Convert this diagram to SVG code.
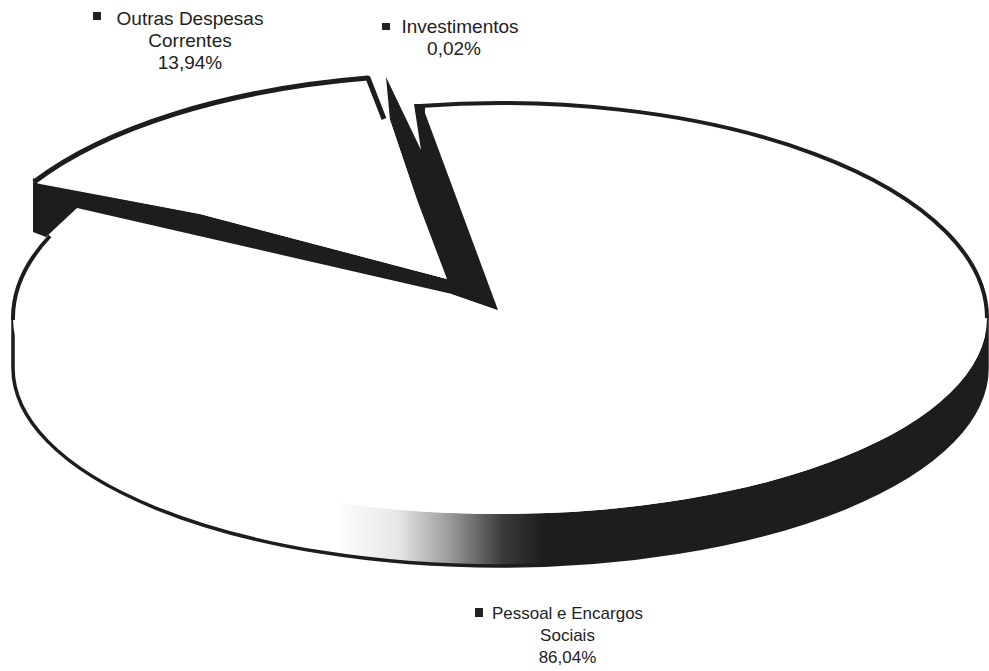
<svg xmlns="http://www.w3.org/2000/svg" width="989" height="671" viewBox="0 0 989 671">
  <style>
    .lbl { font-family: "Liberation Sans", Arial, sans-serif; fill: #222; text-anchor: middle; }
    .top { font-size: 19px; }
    .bot { font-size: 17px; }
    .mk { fill: #222; }
    .dark { fill: #1e1c1c; }
    .face { fill: #ffffff; stroke: none; }
    .edge { fill: none; stroke: #1e1c1c; stroke-linejoin: round; }
  </style>
  <defs>
    <linearGradient id="sideGrad" gradientUnits="userSpaceOnUse" x1="335" y1="0" x2="545" y2="0">
      <stop offset="0" stop-color="#ffffff"/>
      <stop offset="0.3" stop-color="#e6e6e6"/>
      <stop offset="0.55" stop-color="#9a9a9a"/>
      <stop offset="0.8" stop-color="#3a3a3a"/>
      <stop offset="1" stop-color="#1e1c1c"/>
    </linearGradient>
  </defs>
  <rect width="989" height="671" fill="#ffffff"/>

  <g id="node-pessoal">
    <path d="M13,318 L13,368 A487 198 0 0 0 987,368 L987,318 A487 196 0 0 1 13,318 Z" fill="url(#sideGrad)"/>
    <path class="edge" stroke-width="3.5" d="M13,316 L13,368 A487 198 0 0 0 987,368 L987,318"/>
    <path class="face" d="M498,310 L420,106 A487 215 0 0 1 987,318 A487 196 0 0 1 13,318 A487 215 0 0 1 76,212 Z"/>
    <path class="edge" stroke-width="4" d="M420,106 A487 215 0 0 1 987,318"/>
    <path class="edge" stroke-width="4" d="M13,320 A487 215 0 0 1 50,236"/>
    <path class="dark" d="M386,77 L421,150 L414,104 L425,104 L425,113 L498,310 L452,294 L417,200 L390,120 Z"/>
    <g class="lbl bot">
      <rect class="mk" x="475" y="608" width="8" height="9"/>
      <text x="567.5" y="619">Pessoal e Encargos</text>
      <text x="567.5" y="641">Sociais</text>
      <text x="567.5" y="663">86,04%</text>
    </g>
  </g>

  <g id="node-outras">
    <path class="dark" d="M33,178 L33,232 L46,237 L77,208 L452,294 L498,310 L447,279 L200,214 L40,183 Z"/>
    <path class="face" d="M447,279 L417,200 L390,120 L383,117 L368,77 A487 215 0 0 0 33,182 L40,184 L200,214 Z"/>
    <path class="edge" stroke-width="5" d="M384,119 L368,78 A487 215 0 0 0 34,182"/>
    <g class="lbl top">
      <rect class="mk" x="93" y="12" width="8" height="8"/>
      <text x="190" y="25">Outras Despesas</text>
      <text x="190" y="47">Correntes</text>
      <text x="190" y="68.5">13,94%</text>
    </g>
  </g>

  <g id="node-investimentos">
    <g class="lbl top">
      <rect class="mk" x="382" y="23" width="8" height="7"/>
      <text x="460" y="33">Investimentos</text>
      <text x="454" y="55">0,02%</text>
    </g>
  </g>

  <g id="connectors"></g>
</svg>
